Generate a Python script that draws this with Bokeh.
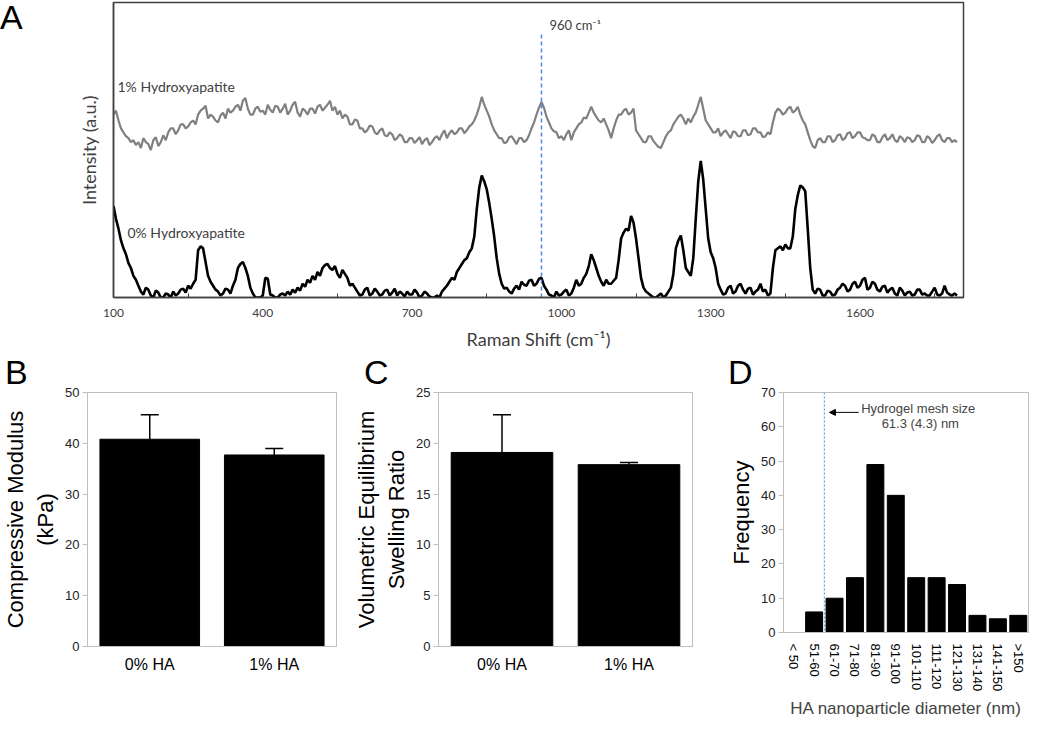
from bokeh.plotting import figure
from bokeh.models import (Range1d, FactorRange, Label, Arrow, NormalHead, TeeHead, Whisker,
                          ColumnDataSource, FixedTicker, Span, Div)
from bokeh.layouts import column, row
from bokeh.embed import file_html
from bokeh.resources import INLINE

# ---------------- data ----------------
raman_shift = list(range(100, 1800, 5))

intensity_1pct_ha = [
    186, 190, 180, 172, 168, 164, 162, 158, 160, 155,
    158, 152, 162, 158, 156, 150, 160, 163, 154, 158,
    165, 160, 168, 172, 172, 166, 170, 176, 176, 172,
    174, 178, 180, 176, 186, 190, 192, 195, 182, 186,
    184, 180, 178, 185, 188, 182, 192, 188, 190, 194,
    196, 190, 200, 203, 192, 186, 186, 192, 194, 189,
    190, 186, 196, 191, 188, 195, 194, 188, 192, 197,
    186, 190, 196, 199, 188, 184, 192, 190, 186, 192,
    192, 187, 194, 196, 190, 193, 196, 200, 190, 194,
    186, 190, 182, 186, 184, 176, 176, 181, 180, 172,
    172, 168, 170, 175, 174, 168, 166, 170, 172, 165,
    164, 168, 166, 160, 162, 166, 164, 158, 158, 162,
    162, 157, 160, 163, 156, 160, 162, 155, 158, 162,
    164, 160, 166, 170, 162, 167, 170, 166, 168, 172,
    172, 167, 170, 174, 176, 180, 186, 194, 204, 196,
    190, 184, 176, 170, 166, 162, 162, 157, 158, 163,
    164, 160, 156, 162, 162, 158, 160, 165, 172, 178,
    186, 193, 199, 193, 184, 178, 172, 169, 168, 162,
    164, 160, 166, 170, 160, 168, 172, 176, 178, 183,
    182, 188, 194, 188, 184, 180, 178, 182, 176, 170,
    162, 172, 180, 186, 186, 190, 192, 186, 188, 192,
    170, 166, 162, 158, 158, 164, 164, 159, 156, 153,
    152, 158, 164, 168, 170, 176, 180, 184, 186, 182,
    176, 182, 178, 184, 188, 196, 204, 192, 180, 176,
    172, 168, 168, 172, 164, 168, 170, 166, 162, 169,
    168, 164, 164, 170, 170, 165, 166, 172, 172, 168,
    168, 163, 164, 168, 166, 178, 188, 192, 190, 186,
    188, 192, 194, 188, 190, 194, 186, 180, 176, 168,
    160, 154, 152, 160, 162, 158, 158, 164, 164, 158,
    160, 165, 166, 160, 162, 167, 168, 162, 164, 168,
    168, 163, 162, 160, 160, 166, 164, 158, 158, 163,
    166, 160, 162, 166, 160, 158, 164, 162, 158, 163,
    162, 158, 160, 165, 164, 158, 158, 164, 162, 157,
    160, 164, 166, 160, 158, 162, 162, 158, 160, 158,
]

intensity_0pct_ha = [
    93, 80, 70, 58, 50, 44, 35, 30, 22, 18,
    12, 6, 3, 10, 8, 2, 0, 7, 5, 0,
    0, 4, 3, 0, 6, 2, 4, 8, 9, 5,
    12, 9, 14, 18, 48, 52, 50, 36, 22, 16,
    12, 8, 6, 2, 4, 9, 8, 4, 12, 18,
    30, 34, 36, 30, 22, 10, 4, 0, 0, 0,
    2, 20, 19, 3, 2, 0, 0, 3, 4, 2,
    6, 3, 8, 5, 10, 7, 14, 11, 18, 15,
    22, 18, 26, 22, 30, 33, 34, 30, 28, 32,
    24, 20, 28, 24, 20, 12, 14, 10, 6, 2,
    3, 8, 10, 2, 4, 9, 6, 2, 3, 7,
    8, 2, 5, 9, 2, 6, 4, 1, 6, 3,
    3, 8, 5, 0, 2, 6, 4, 1, 0, 0,
    2, 0, 6, 9, 12, 16, 20, 18, 26, 30,
    34, 38, 40, 46, 50, 62, 90, 112, 124, 118,
    110, 96, 80, 62, 40, 24, 14, 9, 10, 6,
    4, 9, 12, 8, 16, 13, 12, 17, 18, 12,
    14, 19, 20, 12, 8, 3, 2, 0, 6, 2,
    3, 6, 8, 2, 4, 10, 18, 12, 14, 20,
    24, 32, 44, 38, 30, 22, 16, 12, 18, 14,
    14, 17, 20, 38, 60, 66, 70, 68, 83, 76,
    60, 40, 20, 10, 6, 4, 2, 0, 0, 2,
    4, 0, 2, 6, 10, 24, 50, 58, 63, 48,
    30, 26, 22, 40, 80, 118, 139, 120, 90, 60,
    46, 40, 30, 14, 8, 3, 4, 10, 12, 4,
    6, 12, 14, 8, 4, 9, 10, 3, 6, 8,
    14, 6, 8, 2, 4, 30, 48, 50, 52, 48,
    54, 50, 50, 62, 90, 104, 114, 112, 108, 70,
    30, 8, 4, 9, 8, 2, 2, 7, 6, 2,
    3, 8, 10, 14, 12, 6, 8, 14, 16, 10,
    12, 18, 20, 8, 10, 16, 14, 8, 6, 11,
    12, 5, 8, 10, 4, 2, 10, 7, 2, 5,
    6, 2, 3, 8, 8, 3, 4, 2, 2, 6,
    10, 3, 2, 4, 12, 5, 3, 2, 4, 2,
]

raman_tick_labels = [100, 400, 700, 1000, 1300, 1600]
hydroxyapatite_peak = [960]

groups = ["0% HA", "1% HA"]
modulus_mean = [40.8, 37.7]
modulus_upper = [45.6, 39.0]
swelling_mean = [19.1, 17.9]
swelling_upper = [22.8, 18.1]

size_bins = ["< 50", "51-60", "61-70", "71-80", "81-90", "91-100",
             "101-110", "111-120", "121-130", "131-140", "141-150", ">150"]
size_freq = [0, 6, 10, 16, 49, 40, 16, 16, 14, 5, 4, 5]

FONT = "Liberation Sans"


def letter_div(letter, width, height, pad_left, pad_top, line_h):
    html = ('<div style="font-family:\'Liberation Sans\';font-size:34px;'
            f'line-height:{line_h}px;padding-left:{pad_left}px;padding-top:{pad_top}px;'
            f'color:black;margin:0">{letter}</div>')
    return Div(text=html, width=width, height=height, margin=0)


# ---------------- panel A ----------------
DARK = "#404040"
pa = figure(width=1008, height=354, x_range=Range1d(100, 1808), y_range=Range1d(0, 300),
            output_backend="svg", toolbar_location=None,
            min_border_left=87, min_border_right=71, min_border_top=2, min_border_bottom=57)
pa.grid.visible = False
pa.outline_line_color = DARK
pa.outline_line_width = 1.5

pa.xaxis.ticker = FixedTicker(ticks=raman_tick_labels,
                              minor_ticks=[250, 550, 850, 1150, 1450, 1750])
pa.xaxis.major_tick_in = 0
pa.xaxis.major_tick_out = 0
pa.xaxis.minor_tick_in = 4
pa.xaxis.minor_tick_out = 0
pa.xaxis.minor_tick_line_color = DARK
pa.xaxis.axis_line_color = DARK
pa.xaxis.axis_line_width = 1.5
pa.xaxis.major_label_text_font = "Lato"
pa.xaxis.major_label_text_font_size = "12px"
pa.xaxis.major_label_text_color = DARK
pa.xaxis.major_label_standoff = 11
pa.xaxis.axis_label = "Raman Shift (cm\u207b\u00b9)"
pa.xaxis.axis_label_text_font = "Lato"
pa.xaxis.axis_label_text_font_style = "normal"
pa.xaxis.axis_label_text_font_size = "18px"
pa.xaxis.axis_label_text_color = DARK
pa.xaxis.axis_label_standoff = 8

pa.yaxis.ticker = FixedTicker(ticks=[])
pa.yaxis.major_tick_out = 0
pa.yaxis.major_label_standoff = 0
pa.yaxis.axis_line_color = DARK
pa.yaxis.axis_line_width = 1.5
pa.yaxis.axis_label = "Intensity (a.u.)"
pa.yaxis.axis_label_text_font = "Lato"
pa.yaxis.axis_label_text_font_style = "normal"
pa.yaxis.axis_label_text_font_size = "18px"
pa.yaxis.axis_label_text_color = DARK
pa.yaxis.axis_label_standoff = 14

pa.line(raman_shift, intensity_1pct_ha, line_color="#808080", line_width=2.2)
pa.line(raman_shift, intensity_0pct_ha, line_color="black", line_width=2.6)
pa.segment(x0=hydroxyapatite_peak, y0=[0], x1=hydroxyapatite_peak, y1=[268],
           line_color="#4a86e8", line_width=1.5, line_dash="4 3")

pa.add_layout(Label(x=hydroxyapatite_peak[0], y=277, x_offset=8, text="960 cm\u207b\u00b9",
                    text_font="Lato", text_font_size="13px", text_color=DARK,
                    text_baseline="middle", text_align="left"))
pa.add_layout(Label(x=108, y=215, text="1% Hydroxyapatite", text_font="Lato",
                    text_font_size="14px", text_color=DARK, text_baseline="middle"))
pa.add_layout(Label(x=128, y=66, text="0% Hydroxyapatite", text_font="Lato",
                    text_font_size="14px", text_color=DARK, text_baseline="middle"))

row_a = row(letter_div("A", 26, 354, 0, 0, 34), pa)

# ---------------- panels B, C, D ----------------
GRAY = "#bfbfbf"
DIV_H = 31
FIG_H = 367 - DIV_H
TOP = 7
FRAME_H = 254


def base_panel(width, x_factors, ymax, step, ylabel, bl, br):
    p = figure(width=width, height=FIG_H, x_range=FactorRange(*x_factors),
               y_range=Range1d(0, ymax), output_backend="svg", toolbar_location=None,
               min_border_left=bl, min_border_right=br, min_border_top=TOP,
               min_border_bottom=FIG_H - TOP - FRAME_H)
    p.grid.visible = False
    p.outline_line_color = GRAY
    p.outline_line_width = 1
    p.yaxis.ticker = FixedTicker(ticks=list(range(0, ymax + 1, step)))
    p.yaxis.major_tick_out = 5
    p.yaxis.major_tick_in = 0
    p.yaxis.minor_tick_line_color = None
    p.yaxis.axis_line_color = GRAY
    p.yaxis.major_tick_line_color = GRAY
    p.yaxis.major_label_text_font = FONT
    p.yaxis.major_label_text_font_size = "13px"
    p.yaxis.major_label_text_color = "#222222"
    p.yaxis.major_label_standoff = 3
    p.yaxis.axis_label = ylabel
    p.yaxis.axis_label_text_font = FONT
    p.yaxis.axis_label_text_font_style = "normal"
    p.yaxis.axis_label_text_font_size = "22px"
    p.yaxis.axis_label_text_color = "black"
    p.yaxis.axis_label_standoff = 4
    p.xaxis.major_tick_line_color = None
    p.xaxis.minor_tick_line_color = None
    p.xaxis.axis_line_color = GRAY
    p.xaxis.major_label_text_font = FONT
    p.xaxis.major_label_text_color = "black"
    return p


def bar_panel(width, means, uppers, ymax, step, ylabel, bl, br):
    p = base_panel(width, groups, ymax, step, ylabel, bl, br)
    p.vbar(x=groups, top=means, width=0.8, fill_color="black", line_color="black")
    src = ColumnDataSource(dict(x=groups, lower=means, upper=uppers))
    p.add_layout(Whisker(source=src, base="x", lower="lower", upper="upper",
                         dimension="height", line_color="black", line_width=1.5,
                         upper_head=TeeHead(size=18, line_color="black", line_width=1.5),
                         lower_head=None))
    p.xaxis.major_label_text_font_size = "16px"
    p.xaxis.major_label_standoff = 3
    return p


pb = bar_panel(348, modulus_mean, modulus_upper, 50, 10,
               "Compressive Modulus\n(kPa)", 84, 12)
pc = bar_panel(352, swelling_mean, swelling_upper, 25, 5,
               "Volumetric Equilibrium\nSwelling Ratio", 90, 8)

pd_ = base_panel(334, size_bins, 70, 10, "Frequency", 83, 6)
pd_.vbar(x=size_bins, top=size_freq, width=0.83, fill_color="black", line_color="black")
pd_.xaxis.major_label_orientation = "vertical"
pd_.xaxis.major_label_text_font_size = "13px"
pd_.xaxis.major_label_standoff = 5
pd_.xaxis.axis_label = "HA nanoparticle diameter (nm)"
pd_.xaxis.axis_label_text_font = FONT
pd_.xaxis.axis_label_text_font_style = "normal"
pd_.xaxis.axis_label_text_font_size = "17px"
pd_.xaxis.axis_label_standoff = 5
pd_.add_layout(Span(location=2.0, dimension="height", line_color="#4a86e8",
                    line_width=1, line_dash="2 2"))
pd_.add_layout(Arrow(x_start=3.68, y_start=64.2, x_end=2.25, y_end=64.2,
                     line_color="black", line_width=1,
                     end=NormalHead(size=6, fill_color="black", line_color="black")))
pd_.add_layout(Label(x=6.6, y=65.2, text="Hydrogel mesh size", text_font=FONT,
                     text_font_size="13px", text_align="center", text_baseline="middle"))
pd_.add_layout(Label(x=6.7, y=61.0, text="61.3 (4.3) nm", text_font=FONT,
                     text_font_size="13px", text_align="center", text_baseline="middle"))

row_bcd = row(
    column(letter_div("B", 348, DIV_H, 5, 5, 26), pb),
    column(letter_div("C", 352, DIV_H, 16, 5, 26), pc),
    column(letter_div("D", 334, DIV_H, 28, 5, 26), pd_),
)

layout = column(row_a, row_bcd)
open("out.html", "w").write(file_html(layout, INLINE))
